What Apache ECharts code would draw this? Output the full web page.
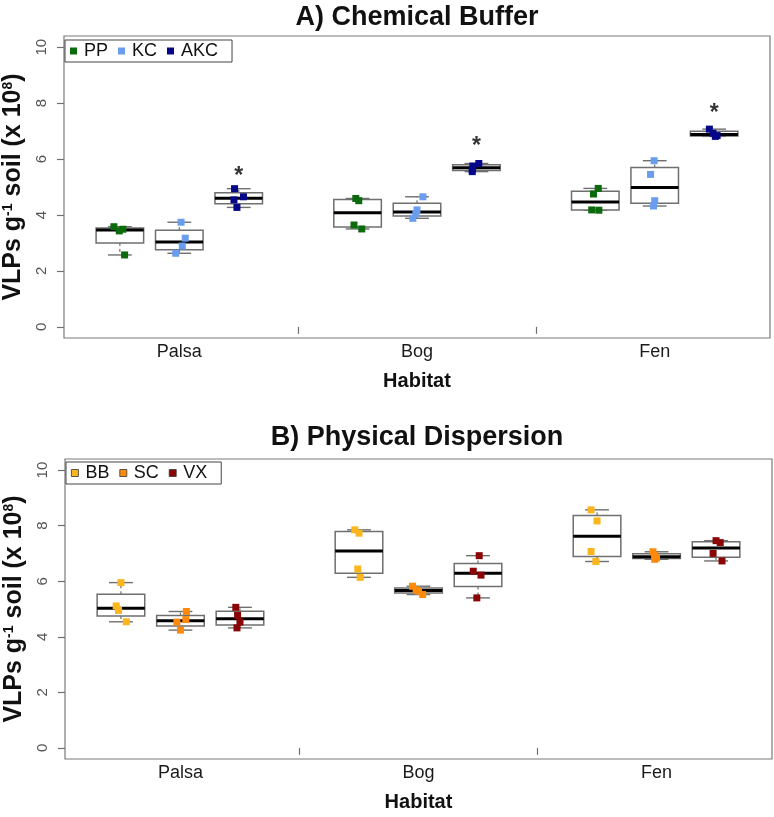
<!DOCTYPE html>
<html><head><meta charset="utf-8">
<script src="https://cdn.jsdelivr.net/npm/echarts@6/dist/echarts.min.js"></script>
<style>html,body{margin:0;padding:0;background:#fff}#c{width:774px;height:817px}</style>
</head><body><div id="c"></div>
<script>
// ---------- data ----------
const habitats = ['Palsa', 'Bog', 'Fen'];
const titleA = 'A) Chemical Buffer';
const titleB = 'B) Physical Dispersion';
const namesA = ['PP', 'KC', 'AKC'];
const namesB = ['BB', 'SC', 'VX'];
const yTicks = [0, 2, 4, 6, 8, 10];

// each array: [Palsa, Bog, Fen], 4 replicates each
const ppValues  = [[3.58, 3.49, 3.43, 2.57], [4.59, 4.51, 3.64, 3.50], [4.95, 4.75, 4.18, 4.17]];
const kcValues  = [[3.74, 3.17, 2.89, 2.63], [4.65, 4.18, 4.04, 3.88], [5.94, 5.45, 4.51, 4.32]];
const akcValues = [[4.94, 4.65, 4.54, 4.27], [5.84, 5.75, 5.63, 5.55], [7.07, 6.92, 6.84, 6.81]];
const bbValues  = [[5.95, 5.11, 4.95, 4.54], [7.85, 7.73, 6.44, 6.14], [8.57, 8.17, 7.07, 6.71]];
const scValues  = [[4.91, 4.62, 4.53, 4.24], [5.82, 5.69, 5.64, 5.52], [7.06, 6.92, 6.84, 6.79]];
const vxValues  = [[5.06, 4.77, 4.53, 4.32], [6.92, 6.36, 6.22, 5.40], [7.46, 7.39, 7.00, 6.73]];

// horizontal jitter of the points (in box-position units)
const ppJitter  = [[-0.10, 0.05, -0.01, 0.08], [-0.03, 0.02, -0.06, 0.07], [0.05, -0.03, -0.06, 0.06]];
const kcJitter  = [[0.03, 0.10, 0.05, -0.06], [0.10, 0.00, -0.02, -0.07], [-0.01, -0.07, 0.00, -0.02]];
const akcJitter = [[-0.07, 0.08, -0.08, -0.03], [0.04, -0.06, -0.07, -0.07], [-0.08, -0.02, 0.05, 0.02]];
const bbJitter  = [[0.00, -0.08, -0.04, 0.09], [-0.07, 0.00, -0.02, 0.02], [-0.10, 0.00, -0.10, -0.02]];
const scJitter  = [[0.10, 0.09, -0.06, 0.00], [-0.10, -0.04, 0.00, 0.07], [-0.06, -0.03, 0.00, -0.03]];
const vxJitter  = [[-0.07, -0.04, 0.00, -0.05], [0.02, -0.08, 0.05, -0.02], [0.00, 0.07, -0.05, 0.10]];

// significance asterisks (panel A, AKC), y position of the mark
const sigA = [5.6, 6.65, 7.82];

// ---------- styling ----------
const FONT = '"Liberation Sans", Arial, sans-serif';
const colorsA = ['#0b6a0b', '#6a9ded', '#06068a'];
const colorsB = ['#fbb51d', '#ff8a0a', '#8a0606'];
const GRAY = '#6f6f6f';

// ---------- helpers ----------
function fivenum(arr) {
  const x = arr.slice().sort((a, b) => a - b);
  const n = x.length;
  const n4 = Math.floor((n + 3) / 2) / 2;
  const d = [1, n4, (n + 1) / 2, n + 1 - n4, n];
  return d.map(v => 0.5 * (x[Math.floor(v) - 1] + x[Math.ceil(v) - 1]));
}
function boxStats(arr) {
  const f = fivenum(arr);
  const iqr = f[3] - f[1];
  const inside = arr.filter(v => v >= f[1] - 1.5 * iqr && v <= f[3] + 1.5 * iqr);
  return [Math.min(...inside), f[1], f[2], f[3], Math.max(...inside)];
}
const posOf = (g, t) => g * 4 + t + 1;

function renderBox(params, api) {
  const pos = api.value(0);
  const lo = api.value(1), q1 = api.value(2), med = api.value(3), q3 = api.value(4), hi = api.value(5);
  const hw = 0.4, cw = 0.2;
  const c = (x, y) => api.coord([x, y]);
  const a = c(pos - hw, q3), b = c(pos + hw, q1);
  const m1 = c(pos - hw, med), m2 = c(pos + hw, med);
  const wTop = c(pos, hi), wQ3 = c(pos, q3), wQ1 = c(pos, q1), wLo = c(pos, lo);
  const cT1 = c(pos - cw, hi), cT2 = c(pos + cw, hi), cL1 = c(pos - cw, lo), cL2 = c(pos + cw, lo);
  const ln = (p, q, st) => ({ type: 'line', shape: { x1: p[0], y1: p[1], x2: q[0], y2: q[1] }, style: st });
  const dash = { stroke: GRAY, lineWidth: 1.2, lineDash: [3, 3] };
  const solid = { stroke: GRAY, lineWidth: 1.4 };
  return {
    type: 'group',
    children: [
      ln(wQ3, wTop, dash), ln(wQ1, wLo, dash),
      ln(cT1, cT2, solid), ln(cL1, cL2, solid),
      { type: 'rect', shape: { x: a[0], y: a[1], width: b[0] - a[0], height: b[1] - a[1] },
        style: { fill: '#fff', stroke: GRAY, lineWidth: 1.5 } },
      ln(m1, m2, { stroke: '#000', lineWidth: 3 })
    ]
  };
}

function makePanel(idx, names, valueSets, jitterSets, colors) {
  const series = [];
  names.forEach((nm, t) => {
    const boxData = valueSets[t].map((vals, g) => [posOf(g, t)].concat(boxStats(vals)));
    series.push({
      type: 'custom', name: nm + '_box', xAxisIndex: idx, yAxisIndex: idx,
      renderItem: renderBox, data: boxData, silent: true, z: 2,
      encode: { x: 0, y: [1, 2, 3, 4, 5] }
    });
  });
  names.forEach((nm, t) => {
    const pts = [];
    valueSets[t].forEach((vals, g) => vals.forEach((v, k) => pts.push([posOf(g, t) + jitterSets[t][g][k], v])));
    series.push({
      type: 'scatter', name: nm, xAxisIndex: idx, yAxisIndex: idx,
      symbol: 'rect', symbolSize: 7, itemStyle: { color: colors[t], opacity: 1 },
      data: pts, z: 5, silent: true
    });
  });
  return series;
}

const seriesA = makePanel(0, namesA, [ppValues, kcValues, akcValues], [ppJitter, kcJitter, akcJitter], colorsA);
const seriesB = makePanel(1, namesB, [bbValues, scValues, vxValues], [bbJitter, scJitter, vxJitter], colorsB);
const sigSeries = {
  type: 'scatter', name: 'sig', xAxisIndex: 0, yAxisIndex: 0, symbolSize: 2,
  itemStyle: { color: 'rgba(0,0,0,0)' }, silent: true, z: 6,
  data: sigA.map((v, g) => [posOf(g, 2), v]),
  label: { show: true, formatter: '*', position: 'inside', fontSize: 23, fontWeight: 'bold', color: '#000',
           fontFamily: FONT, offset: [0, 6] }
};

function xAxisFor(idx) {
  return {
    type: 'value', gridIndex: idx, min: 0.06, max: 11.94,
    axisLine: { show: false }, splitLine: { show: false },
    axisTick: { show: true, customValues: [4, 8], length: 7, lineStyle: { color: GRAY, width: 1.2 } },
    axisLabel: { show: true, customValues: [2, 6, 10], margin: 5, fontSize: 18, color: '#1a1a1a', fontFamily: FONT,
                 formatter: v => habitats[Math.round((v - 2) / 4)] },
    name: 'Habitat', nameLocation: 'middle', nameGap: 33,
    nameTextStyle: { fontSize: 20, fontWeight: 'bold', color: '#111', fontFamily: FONT, verticalAlign: 'top' }
  };
}
function yAxisFor(idx) {
  return {
    type: 'value', gridIndex: idx, min: -0.4, max: 10.4,
    axisLine: { show: false }, splitLine: { show: false },
    axisTick: { show: true, customValues: yTicks, length: 7, lineStyle: { color: GRAY, width: 1.2 } },
    axisLabel: { show: true, customValues: yTicks, rotate: 90, margin: 15, fontSize: 15, color: '#555', fontFamily: FONT },
    name: '{a|VLPs g}{s|-1}{a| soil (x 10}{s|8}{a|)}', nameLocation: 'middle', nameGap: 25, nameRotate: 90,
    nameTextStyle: {
      rich: {
        a: { fontSize: 25, fontWeight: 'bold', color: '#111', fontFamily: FONT },
        s: { fontSize: 14, fontWeight: 'bold', color: '#111', fontFamily: FONT, verticalAlign: 'top' }
      }
    }
  };
}
function legendFor(names, top, left, bordered) {
  return {
    data: names, top: top, left: left, orient: 'horizontal', icon: 'rect',
    itemWidth: 7, itemHeight: 7, itemGap: 10, selectedMode: false,
    borderColor: '#444', borderWidth: 1, padding: [2, 14, 2, 5], backgroundColor: '#fff',
    itemStyle: bordered ? { borderColor: '#333', borderWidth: 0.8 } : {},
    textStyle: { fontSize: 18, color: '#111', fontFamily: FONT, padding: [0, 0, 0, 2] }
  };
}

const option = {
  backgroundColor: '#fff',
  animation: false,
  title: [
    { text: titleA, left: 417, top: 4, textAlign: 'center', padding: 0,
      textStyle: { fontSize: 27, fontWeight: 'bold', color: '#111', fontFamily: FONT } },
    { text: titleB, left: 417, top: 424, textAlign: 'center', padding: 0,
      textStyle: { fontSize: 27, fontWeight: 'bold', color: '#111', fontFamily: FONT } }
  ],
  grid: [
    { left: 64, top: 36, width: 706, height: 302, show: true, borderColor: '#7a7a7a', borderWidth: 1.2,
      backgroundColor: 'transparent', containLabel: false, outerBoundsMode: 'none' },
    { left: 65, top: 459, width: 707, height: 300, show: true, borderColor: '#7a7a7a', borderWidth: 1.2,
      backgroundColor: 'transparent', containLabel: false, outerBoundsMode: 'none' }
  ],
  xAxis: [xAxisFor(0), xAxisFor(1)],
  yAxis: [yAxisFor(0), yAxisFor(1)],
  legend: [legendFor(namesA, 40, 65, false), legendFor(namesB, 462, 66, true)],
  series: seriesA.concat(seriesB, [sigSeries])
};

const chart = echarts.init(document.getElementById('c'), null, { renderer: 'canvas' });
chart.setOption(option);
</script>
</body></html>
